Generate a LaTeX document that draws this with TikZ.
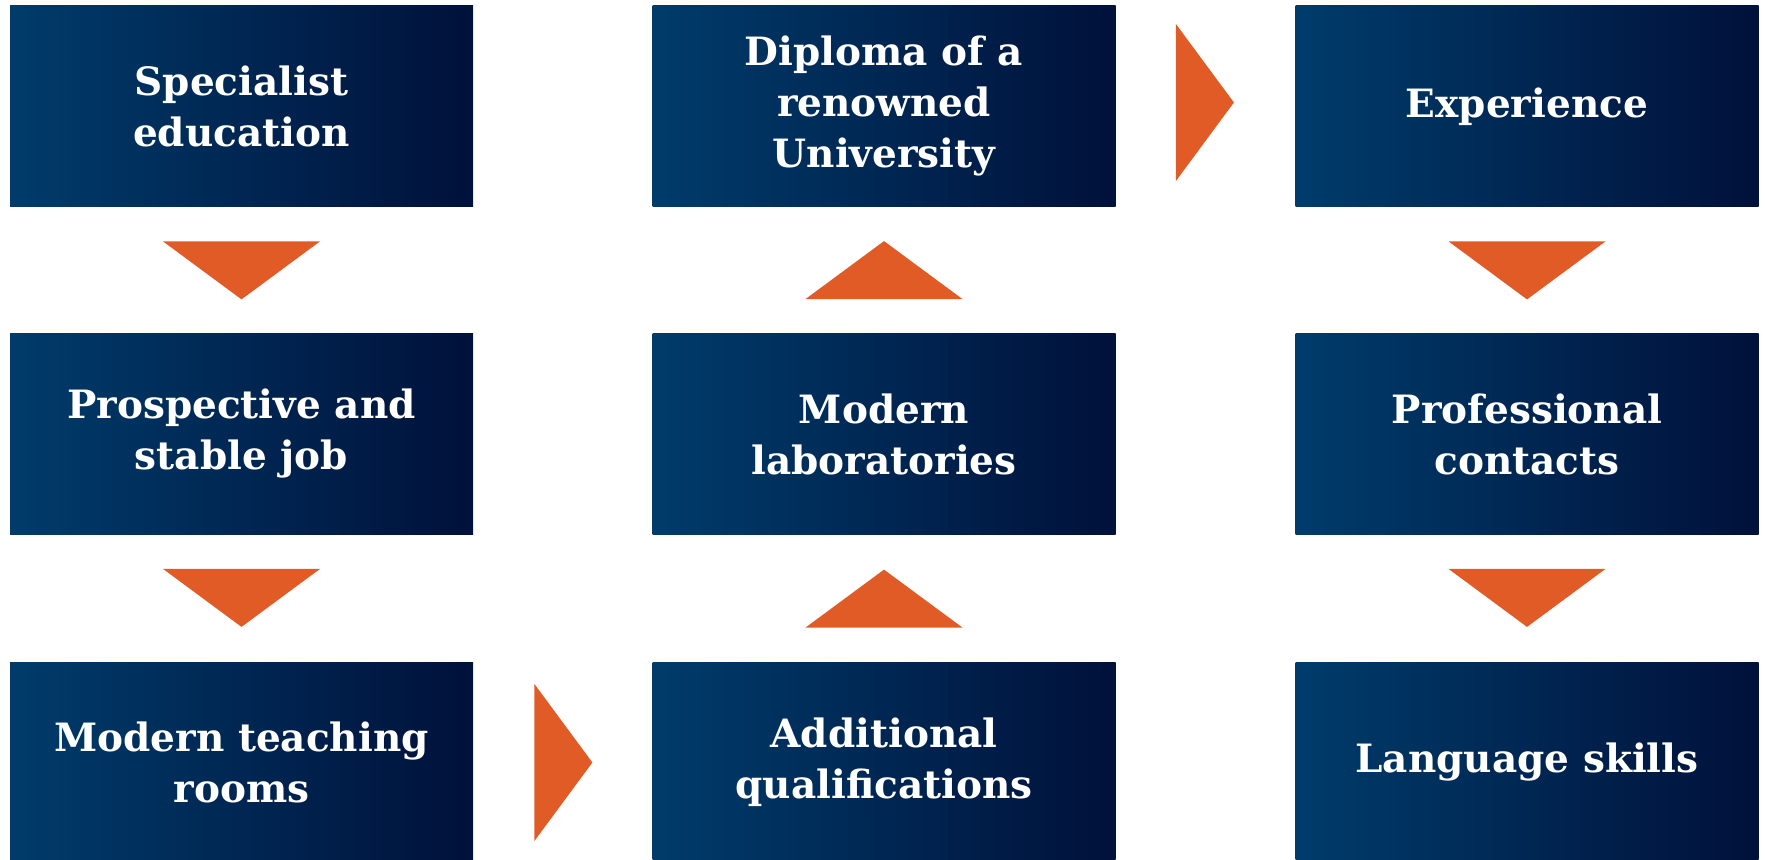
\documentclass[tikz,border=0pt]{standalone}
\usepackage{fontspec}
\setmainfont{DejaVu Serif}
\usetikzlibrary{shapes.geometric,calc}
\definecolor{boxleft}{RGB}{0,60,107}
\definecolor{boxright}{RGB}{0,17,58}
\definecolor{arrowfill}{RGB}{224,91,38}
\begin{document}
\begin{tikzpicture}[x=0.5pt, y=-0.5pt,
        box/.style={rectangle, left color=boxleft, right color=boxright, draw=none,
            minimum width=231.5pt, minimum height=100.5pt, inner sep=0pt, text=white,
            align=center, font=\fontsize{19.5}{25.5}\selectfont\bfseries},
        tri/.style={isosceles triangle, isosceles triangle stretches, fill=arrowfill,
            draw=none, inner sep=0pt, outer sep=0pt, minimum width=78.5pt,
            minimum height=29pt, anchor=lower side}]
            \useasboundingbox (0,0) rectangle (1765,860);
            \node[box] (b1) at (241.5,106.5) {Specialist\\education};
            \node[box] (b2) at (241.5,434) {Prospective and\\stable job};
            \node[box] (b3) at (241.5,762.5) {Modern teaching\\rooms};
            \node[box] (b4) at (884,762.5) {Additional\\qualifications};
            \node[box] (b5) at (884,434) {Modern\\laboratories};
            \node[box] (b6) at (884,106.5) {Diploma of a\\renowned\\University};
            \node[box] (b7) at (1527,106.5) {Experience};
            \node[box] (b8) at (1527,434) {Professional\\contacts};
            \node[box] (b9) at (1527,762.5) {Language skills};
            \node[tri, rotate=-90] (t1) at ($(b1.south)+(0,34)$) {};
            \node[tri, rotate=-90] (t2) at ($(b2.south)+(0,34)$) {};
            \node[tri] (t3) at ($(b3.east)+(61,0)$) {};
            \node[tri, rotate=90] (t4) at ($(b4.north)+(0,-34)$) {};
            \node[tri, rotate=90] (t5) at ($(b5.north)+(0,-34)$) {};
            \node[tri] (t6) at ($(b6.east)+(60,-4)$) {};
            \node[tri, rotate=-90] (t7) at ($(b7.south)+(0,34)$) {};
            \node[tri, rotate=-90] (t8) at ($(b8.south)+(0,34)$) {};
        \end{tikzpicture}
\end{document}
